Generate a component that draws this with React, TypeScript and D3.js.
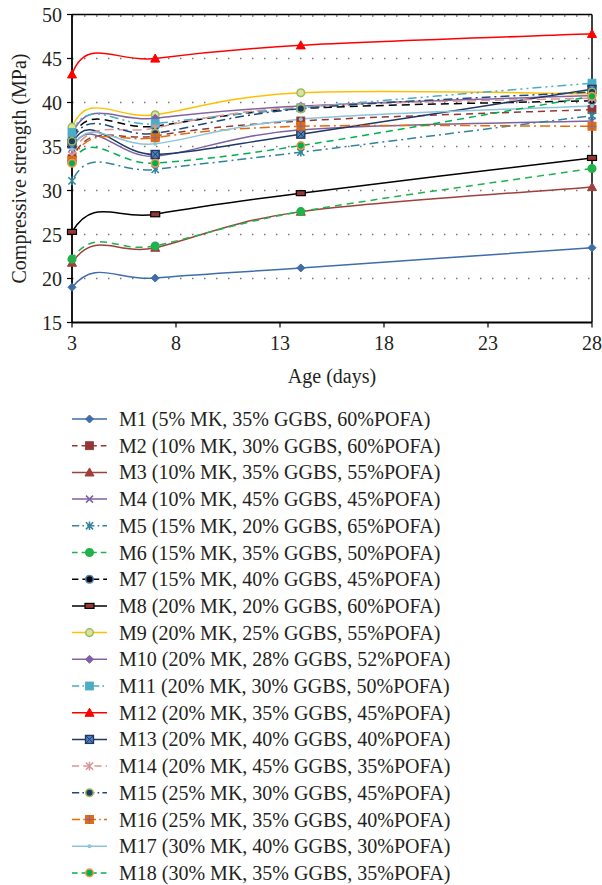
import React from "react";
import * as d3 from "d3";

// ---- data ----
const ages = [0, 3, 7, 14, 28];
const xTicks = [3, 8, 13, 18, 23, 28];
const yTicks = [15, 20, 25, 30, 35, 40, 45, 50];
const seriesNames = [
  "M1 (5% MK, 35% GGBS, 60%POFA)",
  "M2 (10% MK, 30% GGBS, 60%POFA)",
  "M3 (10% MK, 35% GGBS, 55%POFA)",
  "M4 (10% MK, 45% GGBS, 45%POFA)",
  "M5 (15% MK, 20% GGBS, 65%POFA)",
  "M6 (15% MK, 35% GGBS, 50%POFA)",
  "M7 (15% MK, 40% GGBS, 45%POFA)",
  "M8 (20% MK, 20% GGBS, 60%POFA)",
  "M9 (20% MK, 25% GGBS, 55%POFA)",
  "M10 (20% MK, 28% GGBS, 52%POFA)",
  "M11 (20% MK, 30% GGBS, 50%POFA)",
  "M12 (20% MK, 35% GGBS, 45%POFA)",
  "M13 (20% MK, 40% GGBS, 40%POFA)",
  "M14 (20% MK, 45% GGBS, 35%POFA)",
  "M15 (25% MK, 30% GGBS, 45%POFA)",
  "M16 (25% MK, 35% GGBS, 40%POFA)",
  "M17 (30% MK, 40% GGBS, 30%POFA)",
  "M18 (30% MK, 35% GGBS, 35%POFA)",
];
const M1 = [0, 19.0, 20.05, 21.2, 23.5];
const M2 = [0, 33.6, 36.2, 37.9, 39.2];
const M3 = [0, 21.8, 23.5, 27.6, 30.4];
const M4 = [0, 34.8, 33.9, 36.9, 37.9];
const M5 = [0, 31.1, 32.4, 34.35, 38.5];
const M6 = [0, 22.2, 23.7, 27.6, 32.5];
const M7 = [0, 35.9, 37.3, 39.3, 40.2];
const M8 = [0, 25.3, 27.3, 29.7, 33.7];
const M9 = [0, 37.2, 38.6, 41.1, 41.0];
const M10 = [0, 36.4, 38.2, 39.6, 40.8];
const M11 = [0, 36.6, 37.6, 39.4, 42.2];
const M12 = [0, 43.2, 45.0, 46.5, 47.8];
const M13 = [0, 35.3, 34.1, 36.4, 41.5];
const M14 = [0, 34.0, 37.1, 39.5, 40.5];
const M15 = [0, 35.6, 36.5, 39.3, 41.2];
const M16 = [0, 33.4, 36.0, 37.3, 37.3];
const M17 = [0, 34.7, 35.3, 38.1, 39.6];
const M18 = [0, 33.1, 33.1, 35.1, 40.7];
const seriesValues = [M1, M2, M3, M4, M5, M6, M7, M8, M9, M10, M11, M12, M13, M14, M15, M16, M17, M18];

type Style = {
  color: string;
  dash?: string;
  marker: string;
  fill?: string;
  mstroke?: string;
  extra?: string;
};
const styles: Style[] = [
  { color: "#3F6DAA", marker: "diamond" },
  { color: "#943634", dash: "7,5", marker: "square", fill: "#943634" },
  { color: "#A0403D", marker: "triangle", fill: "#A0403D" },
  { color: "#7B62A0", marker: "x" },
  { color: "#31849B", dash: "9,4,2,4", marker: "star" },
  { color: "#22B14C", dash: "7,5", marker: "circle", fill: "#22B14C" },
  { color: "#000000", dash: "8,5", marker: "circle", fill: "#000000", mstroke: "#4F81BD" },
  { color: "#000000", marker: "rect", fill: "#943634", mstroke: "#000000" },
  { color: "#FFC000", marker: "circle", fill: "#D7E4A0", mstroke: "#9BBB59" },
  { color: "#8064A2", marker: "diamond", fill: "#7F5FA8" },
  { color: "#4BACC6", dash: "9,4,2,4,2,4", marker: "square", fill: "#4BACC6" },
  { color: "#FF0000", marker: "triangle", fill: "#FF0000" },
  { color: "#1F3864", marker: "squarex", fill: "#4F81BD", mstroke: "#1F3864" },
  { color: "#D99694", dash: "9,5", marker: "star" },
  { color: "#1F497D", dash: "9,4,2,4", marker: "circle", fill: "#1F3864", mstroke: "#9BBB59" },
  { color: "#E46C0A", dash: "10,4,2,4", marker: "squareplus", fill: "#E46C0A", extra: "#8064A2" },
  { color: "#8CC4DA", marker: "dot", fill: "#8CC4DA" },
  { color: "#00B050", dash: "7,5", marker: "circle", fill: "#00B050", mstroke: "#F79646" },
];

// ---- layout ----
const W = 602;
const H = 885;
const left = 72;
const right = 592;
const top = 14.5;
const bottom = 322.5;

const x = d3.scaleLinear().domain([3, 28]).range([left, right]);
const y = d3.scaleLinear().domain([15, 50]).range([bottom, top]);

// Excel-like smoothed bezier curve
function excelCurve(context: any) {
  let pts: [number, number][] = [];
  return {
    areaStart() {},
    areaEnd() {},
    lineStart() {
      pts = [];
    },
    point(px: number, py: number) {
      pts.push([+px, +py]);
    },
    lineEnd() {
      const n = pts.length;
      if (!n) return;
      context.moveTo(pts[0][0], pts[0][1]);
      const dist = (a: number[], b: number[]) => Math.hypot(a[0] - b[0], a[1] - b[1]);
      for (let i = 0; i < n - 1; i++) {
        const p0 = pts[Math.max(i - 1, 0)];
        const p1 = pts[i];
        const p2 = pts[i + 1];
        const p3 = pts[Math.min(i + 2, n - 1)];
        const d12 = dist(p1, p2);
        const d02 = dist(p0, p2);
        const d13 = dist(p1, p3);
        const f1 = d02 > 0 ? Math.min(1 / 6, d12 / (2 * d02)) : 0;
        const f2 = d13 > 0 ? Math.min(1 / 6, d12 / (2 * d13)) : 0;
        context.bezierCurveTo(
          p1[0] + f1 * (p2[0] - p0[0]),
          p1[1] + f1 * (p2[1] - p0[1]),
          p2[0] - f2 * (p3[0] - p1[0]),
          p2[1] - f2 * (p3[1] - p1[1]),
          p2[0],
          p2[1]
        );
      }
    },
  };
}

const lineGen = d3
  .line<number>()
  .x((_, i) => x(ages[i]))
  .y((v) => y(v))
  .curve(excelCurve as any);

function Marker({ s, cx, cy }: { s: Style; cx: number; cy: number }) {
  const c = s.color;
  switch (s.marker) {
    case "diamond": {
      const r = 4;
      return (
        <path
          d={`M${cx},${cy - r}L${cx + r},${cy}L${cx},${cy + r}L${cx - r},${cy}Z`}
          fill={s.fill || c}
          stroke={s.fill || c}
          strokeWidth={1}
        />
      );
    }
    case "square": {
      const r = 4;
      return <rect x={cx - r} y={cy - r} width={2 * r} height={2 * r} fill={s.fill} stroke={s.fill} strokeWidth={0.8} />;
    }
    case "triangle": {
      const r = 4.5;
      return (
        <path
          d={`M${cx},${cy - r}L${cx + r},${cy + r * 0.8}L${cx - r},${cy + r * 0.8}Z`}
          fill={s.fill}
          stroke={s.fill}
        />
      );
    }
    case "x": {
      const r = 3.5;
      return (
        <path
          d={`M${cx - r},${cy - r}L${cx + r},${cy + r}M${cx - r},${cy + r}L${cx + r},${cy - r}`}
          stroke={c}
          strokeWidth={1.5}
        />
      );
    }
    case "star": {
      const r = 3.6;
      return (
        <path
          d={`M${cx - r},${cy - r}L${cx + r},${cy + r}M${cx - r},${cy + r}L${cx + r},${cy - r}M${cx},${cy - r * 1.2}L${cx},${cy + r * 1.2}`}
          stroke={c}
          strokeWidth={1.5}
        />
      );
    }
    case "circle":
      return <circle cx={cx} cy={cy} r={3.8} fill={s.fill} stroke={s.mstroke || s.fill} strokeWidth={1.5} />;
    case "rect":
      return <rect x={cx - 4.5} y={cy - 2.5} width={9} height={5} fill={s.fill} stroke={s.mstroke} strokeWidth={1.2} />;
    case "squarex": {
      const r = 4;
      return (
        <g>
          <rect x={cx - r} y={cy - r} width={2 * r} height={2 * r} fill={s.fill} stroke={s.mstroke} strokeWidth={1.3} />
          <path
            d={`M${cx - r},${cy - r}L${cx + r},${cy + r}M${cx - r},${cy + r}L${cx + r},${cy - r}`}
            stroke={s.mstroke}
            strokeWidth={1}
          />
        </g>
      );
    }
    case "squareplus": {
      const r = 4.5;
      return (
        <g>
          <rect x={cx - r} y={cy - r} width={2 * r} height={2 * r} fill={s.fill} />
          <path d={`M${cx},${cy - r}L${cx},${cy + r}M${cx - r},${cy}L${cx + r},${cy}`} stroke={s.extra} strokeWidth={1} />
        </g>
      );
    }
    case "dot":
      return <circle cx={cx} cy={cy} r={2} fill={s.fill} />;
    default:
      return null;
  }
}

const FONT = "'Liberation Serif', 'Times New Roman', serif";

export default function App() {
  const gridVals = yTicks.filter((v) => v > 15);
  const legendY0 = 419;
  const legendStep = 26.7;
  return (
    <div>
      <style>{`body{margin:0}`}</style>
      <svg width={W} height={H} style={{ display: "block", background: "#fff" }} fontFamily={FONT}>
        <defs>
          <clipPath id="plotclip">
            <rect x={left} y={top - 1} width={right - left} height={bottom - top + 1} />
          </clipPath>
        </defs>
        {/* grid dotted lines */}
        {gridVals.map((v) => (
          <line
            key={v}
            x1={left}
            x2={right}
            y1={y(v) + (v === 50 ? 1.5 : 0)}
            y2={y(v) + (v === 50 ? 1.5 : 0)}
            stroke="#777"
            strokeWidth={1.6}
            strokeDasharray="1.5,10.5"
          />
        ))}
        {/* frame */}
        <line x1={left} x2={right} y1={top} y2={top} stroke="#000" strokeWidth={1.5} />
        <line x1={right} x2={right} y1={top} y2={bottom} stroke="#000" strokeWidth={1.5} />
        {/* series lines */}
        <g clipPath="url(#plotclip)">
          {seriesValues.map((vals, i) => (
            <path
              key={i}
              d={lineGen(vals) || ""}
              fill="none"
              stroke={styles[i].color}
              strokeWidth={1.5}
              strokeDasharray={styles[i].dash}
            />
          ))}
        </g>
        {/* axes */}
        <line x1={left} x2={left} y1={top} y2={bottom} stroke="#000" strokeWidth={1.8} />
        <line x1={left} x2={right} y1={bottom} y2={bottom} stroke="#000" strokeWidth={1.8} />
        {yTicks.map((v) => (
          <g key={v}>
            <line x1={left - 5} x2={left} y1={y(v)} y2={y(v)} stroke="#000" strokeWidth={1.2} />
            <text x={left - 10} y={y(v)} dy="0.35em" textAnchor="end" fontSize={20} fill="#231f20">
              {v}
            </text>
          </g>
        ))}
        {xTicks.map((v) => (
          <g key={v}>
            <line x1={x(v)} x2={x(v)} y1={bottom} y2={bottom + 5} stroke="#000" strokeWidth={1.2} />
            <text x={x(v)} y={bottom + 20} dy="0.35em" textAnchor="middle" fontSize={20} fill="#231f20">
              {v}
            </text>
          </g>
        ))}
        <text x={(left + right) / 2} y={376} dy="0.35em" textAnchor="middle" fontSize={20} fill="#231f20">
          Age (days)
        </text>
        <text
          transform={`translate(19,${(top + bottom) / 2}) rotate(-90)`}
          dy="0.35em"
          textAnchor="middle"
          fontSize={20}
          fill="#231f20"
        >
          Compressive strength (MPa)
        </text>
        {/* markers */}
        {seriesValues.map((vals, i) =>
          vals.map((v, j) =>
            ages[j] >= 3 ? <Marker key={`${i}-${j}`} s={styles[i]} cx={x(ages[j])} cy={y(v)} /> : null
          )
        )}
        {/* legend */}
        {seriesNames.map((name, i) => {
          const ly = legendY0 + i * legendStep;
          const s = styles[i];
          return (
            <g key={name}>
              <line
                x1={72}
                x2={107}
                y1={ly}
                y2={ly}
                stroke={s.color}
                strokeWidth={1.5}
                strokeDasharray={s.dash ? s.dash.split(",").map((d) => +d * 0.8).join(",") : undefined}
              />
              <Marker s={s} cx={89.5} cy={ly} />
              <text x={119} y={ly} dy="0.35em" fontSize={20} fill="#231f20">
                {name}
              </text>
            </g>
          );
        })}
      </svg>
    </div>
  );
}
